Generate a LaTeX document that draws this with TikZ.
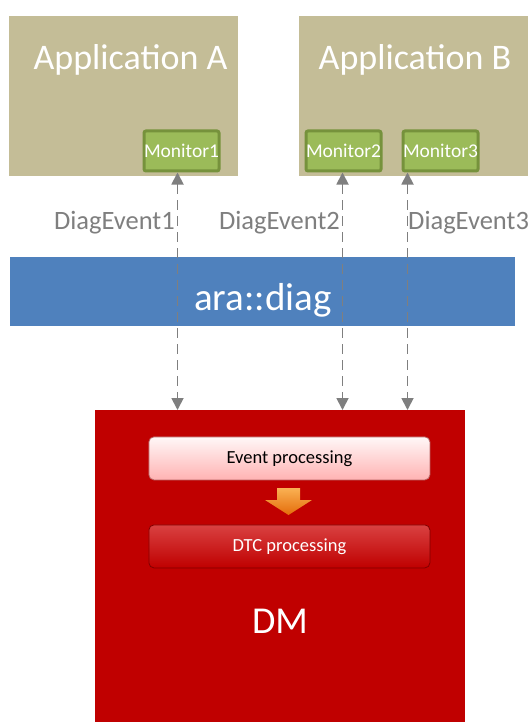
\documentclass[tikz,border=0pt]{standalone}
\usepackage{fontspec}
\setmainfont{Carlito}
\usetikzlibrary{arrows.meta}
\definecolor{tanC}{HTML}{C4BD97}
\definecolor{blueC}{HTML}{4F81BD}
\definecolor{redC}{HTML}{C00000}
\definecolor{monFill}{HTML}{9BBB59}
\definecolor{monLine}{HTML}{76923C}
\definecolor{grayC}{HTML}{7F7F7F}
\definecolor{orTop}{HTML}{FAB153}
\definecolor{orBot}{HTML}{E46C0A}
\tikzset{
  appbox/.style={fill=tanC, draw=none, anchor=north west, inner sep=0pt},
  apptext/.style={text=white, font=\fontsize{36}{40}\selectfont, anchor=base},
  monbox/.style={fill=monFill, draw=monLine, line width=3pt, rounded corners=2pt,
     anchor=north west, minimum width=75pt, minimum height=40pt, inner sep=0pt,
     text=white, font=\fontsize{19.5}{22}\selectfont},
  evlabel/.style={text=grayC, font=\fontsize{26.5}{30}\selectfont, inner sep=0pt},
  conn/.style={draw=grayC, line width=1.8pt, dash pattern=on 10pt off 6pt,
     {Triangle[width=12pt,length=12pt]}-{Triangle[width=12pt,length=12pt]}},
  procbox/.style={rounded corners=5pt, anchor=north west, minimum width=281pt,
     minimum height=43pt, inner sep=0pt, font=\fontsize{18.5}{22}\selectfont},
}
\begin{document}
\begin{tikzpicture}[x=1pt,y=-1pt]
\useasboundingbox[fill=white] (0,0) rectangle (532,722);
% applications
\node[appbox, minimum width=229pt, minimum height=160pt] (appA) at (9,16) {};
\node[appbox, minimum width=229pt, minimum height=160pt] (appB) at (299,16) {};
\node[apptext] (appAt) at (130.5,70) {Application A};
\node[apptext] (appBt) at (415,70) {Application B};
% monitors
\node[monbox] (m1) at (142.5,129.5) {Monitor1};
\node[monbox] (m2) at (304.5,129.5) {Monitor2};
\node[monbox] (m3) at (401.5,129.5) {Monitor3};
% ara::diag bar
\node[fill=blueC, anchor=north west, minimum width=505pt, minimum height=69pt, inner sep=0pt] (bar) at (10,257) {};
\node[text=white, font=\fontsize{39}{42}\selectfont, anchor=base] (bart) at (263,310) {ara::diag};
% DM
\node[fill=redC, anchor=north west, minimum width=370pt, minimum height=312pt, inner sep=0pt] (dm) at (95,410) {};
\node[text=white, font=\fontsize{38}{42}\selectfont, anchor=base] (dmt) at (280,633) {DM};
% processing boxes
\node[procbox, top color=red!3!white, bottom color=red!30!white, draw=red!55!black!60, line width=0.8pt] (ev) at (148.5,436.5) {Event processing};
\node[procbox, top color=red!70!white!85!black, bottom color=red!75!black, draw=red!50!black, line width=0.8pt, text=white] (dtc) at (148.5,524.5) {DTC processing};
% orange arrow
\shade[top color=orTop, bottom color=orBot]
  (277,488) -- (300,488) -- (300,500) -- (312,500) -- (288.5,515) -- (265,500) -- (277,500) -- cycle;
% connectors
\coordinate (t1) at ([xshift=-4pt]m1.south);
\coordinate (t2) at ([xshift=-1pt]m2.south);
\coordinate (t3) at ([xshift=-33pt]m3.south);
\draw[conn] (t1) -- (t1 |- dm.north);
\draw[conn] (t2) -- (t2 |- dm.north);
\draw[conn] (t3) -- (t3 |- dm.north);
% event labels
\node[evlabel, anchor=base east] (e1) at (175,229) {DiagEvent1};
\node[evlabel, anchor=base east] (e2) at (340,229) {DiagEvent2};
\node[evlabel, anchor=base west] (e3) at (408,229) {DiagEvent3};
\end{tikzpicture}
\end{document}
